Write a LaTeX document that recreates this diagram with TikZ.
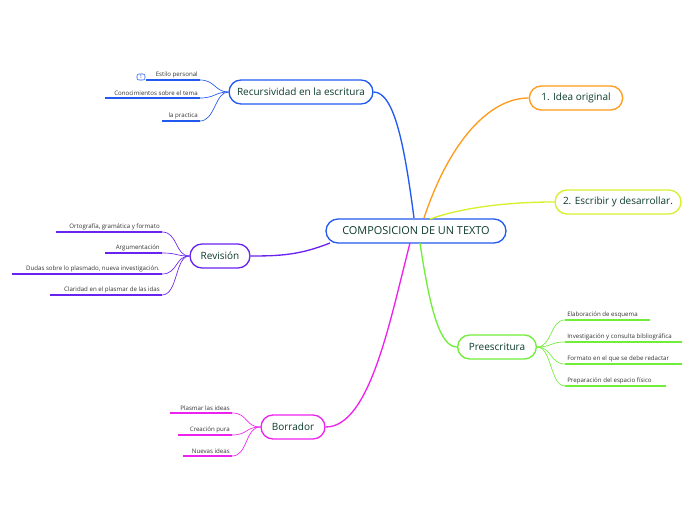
\documentclass[tikz,border=0pt]{standalone}
\usepackage{fontspec}
\setmainfont{Open Sans}
\definecolor{cb}{HTML}{2259F0}
\definecolor{co}{HTML}{FF9A1A}
\definecolor{cy}{HTML}{D8F02A}
\definecolor{cg}{HTML}{70EE3A}
\definecolor{cp}{HTML}{6A22F0}
\definecolor{cm}{HTML}{EE22EE}
\definecolor{tx}{HTML}{0B3B2A}
\begin{document}
\begin{tikzpicture}[x=0.75pt,y=-0.75pt,
 main/.style={draw=#1,line width=1pt,rounded corners=9pt,fill=white,text=tx,font=\fontsize{7.5}{9}\selectfont,minimum height=18pt,inner xsep=6pt},
 leaf/.style={font=\fontsize{4.6}{5}\selectfont,text=black!80,anchor=south,inner sep=1.5pt},
 ul/.style={draw=#1,line width=1.5pt},
 con/.style={draw=#1,line width=1pt},
 sub/.style={draw=#1,line width=0.5pt}]
\useasboundingbox (0,0) rectangle (696,520);
% center
\node[main=cb,minimum width=135pt,font=\fontsize{8.2}{10}\selectfont] (c) at (416,231) {COMPOSICION DE UN TEXTO};
\coordinate (ct) at (416,218);\coordinate (cbm) at (416,243);
\node[main=cb,minimum width=104pt] (r) at (301,92) {Recursividad en la escritura};
\node[main=co,minimum width=70pt] (i) at (576,98) {1. Idea original};
\node[main=cy,minimum width=93pt] (e) at (618,202) {2. Escribir y desarrollar.};
\node[main=cg,minimum width=59pt] (p) at (497,347) {Preescritura};
\node[main=cp,minimum width=45pt] (v) at (220,256) {Revisión};
\node[main=cm,minimum width=48pt] (b) at (293,427) {Borrador};
\begin{scope}[on background layer/.style={}]
\draw[con=cb] (414,218) .. controls (405,150) and (395,92) .. (r.east);
\draw[con=co] (424,218) .. controls (450,140) and (490,98) .. (i.west);
\draw[con=cy] (430,219) .. controls (470,205) and (520,202) .. (e.west);
\draw[con=cg] (420,243) .. controls (430,310) and (440,347) .. (p.west);
\draw[con=cp] (330,243) .. controls (300,255) and (280,256) .. (v.east);
\draw[con=cm] (410,243) .. controls (390,320) and (370,427) .. (b.east);
\end{scope}
% recursividad leaves
\foreach \n/\xa/\y/\t in {r1/146/80/Estilo personal, r2/105/98/Conocimientos sobre el tema, r3/162/121/la practica}{
 \coordinate (\n a) at (\xa,\y); \coordinate (\n b) at (200,\y);
 \draw[ul=cb] (\n a) -- (\n b);
 \node[leaf,anchor=south east] at (\n b) {\t};
 \draw[sub=cb] (\n b) .. controls (215,\y) and (215,92) .. (r.west);}
\node[draw=cb,rounded corners=1.5pt,font=\fontsize{3.5}{4}\selectfont,inner sep=1pt,minimum width=6pt,text=cb] (one) at (141,77) {1};
% revision leaves
\foreach \n/\xa/\y/\t in {v1/56/232/{Ortografía, gramática y formato}, v2/105/253/Argumentación, v3/12/274/{Dudas sobre lo plasmado, nueva investigación.}, v4/50/295/Claridad en el plasmar de las idas}{
 \coordinate (\n a) at (\xa,\y); \coordinate (\n b) at (162,\y);
 \draw[ul=cp] (\n a) -- (\n b);
 \node[leaf,anchor=south east] at (\n b) {\t};
 \draw[sub=cp] (\n b) .. controls (178,\y) and (175,256) .. (v.west);}
% preescritura leaves
\foreach \n/\xb/\y/\t in {p1/650/320/Elaboración de esquema, p2/682/342/Investigación y consulta bibliográfica, p3/682/364/Formato en el que se debe redactar, p4/666/386/Preparación del espacio físico}{
 \coordinate (\n a) at (565,\y); \coordinate (\n b) at (\xb,\y);
 \draw[ul=cg] (\n a) -- (\n b);
 \node[leaf,anchor=south west] at (\n a) {\t};
 \draw[sub=cg] (\n a) .. controls (550,\y) and (552,347) .. (p.east);}
% borrador leaves
\foreach \n/\xa/\y/\t in {b1/170/413/Plasmar las ideas, b2/178/435/Creación pura, b3/183/456/Nuevas ideas}{
 \coordinate (\n a) at (\xa,\y); \coordinate (\n b) at (232,\y);
 \draw[ul=cm] (\n a) -- (\n b);
 \node[leaf,anchor=south east] at (\n b) {\t};
 \draw[sub=cm] (\n b) .. controls (248,\y) and (245,427) .. (b.west);}
\end{tikzpicture}
\end{document}
